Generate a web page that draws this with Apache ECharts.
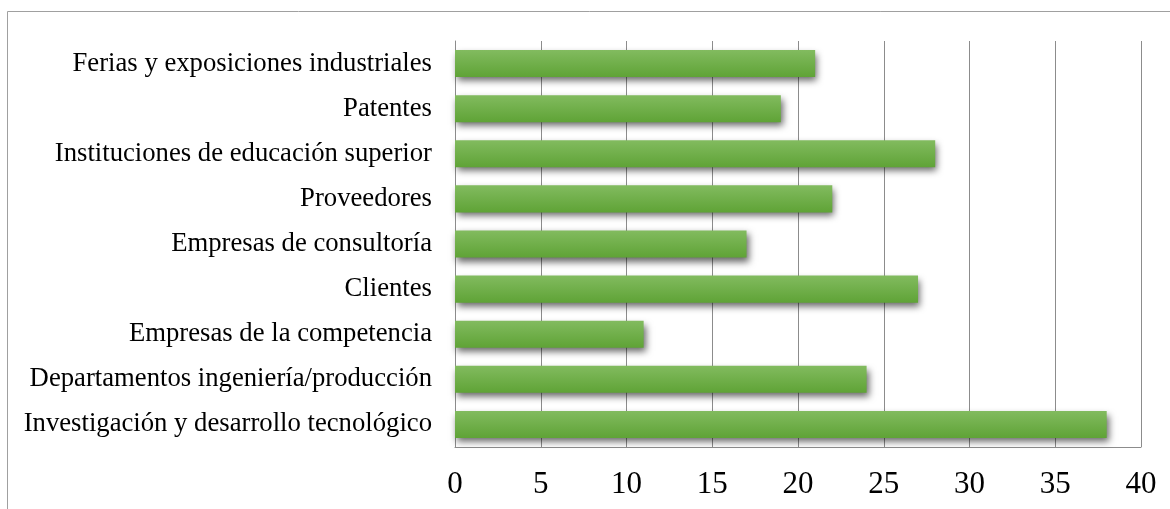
<!DOCTYPE html>
<html>
<head>
<meta charset="utf-8">
<script src="https://cdn.jsdelivr.net/npm/echarts@6/dist/echarts.min.js"></script>
<style>
html,body{margin:0;padding:0;background:#fff;}
#chart{width:1170px;height:509px;}
</style>
</head>
<body>
<div id="chart"></div>
<script>
const categories = [
  "Investigación y desarrollo tecnológico",
  "Departamentos ingeniería/producción",
  "Empresas de la competencia",
  "Clientes",
  "Empresas de consultoría",
  "Proveedores",
  "Instituciones de educación superior",
  "Patentes",
  "Ferias y exposiciones industriales"
];
const values = [38, 24, 11, 27, 17, 22, 28, 19, 21];
const xTicks = { min: 0, max: 40, interval: 5 };

const chart = echarts.init(document.getElementById('chart'));
chart.setOption({
  animation: false,
  backgroundColor: '#ffffff',
  graphic: [{
    type: 'rect',
    shape: { x: 7.5, y: 11.5, width: 1200, height: 600 },
    style: { fill: 'none', stroke: '#a0a0a0', lineWidth: 1 },
    silent: true
  }],
  grid: { left: 455, right: 29, top: 41, bottom: 62, containLabel: false },
  xAxis: {
    type: 'value',
    min: xTicks.min, max: xTicks.max, interval: xTicks.interval,
    axisLine: { show: true, lineStyle: { color: '#8c8c8c', width: 1 } },
    axisTick: { show: false },
    splitLine: { show: true, lineStyle: { color: '#8c8c8c', width: 1 } },
    axisLabel: { fontFamily: 'Liberation Serif', fontSize: 31, color: '#000', margin: 22 }
  },
  yAxis: {
    type: 'category',
    data: categories,
    axisLine: { show: true, lineStyle: { color: '#8c8c8c', width: 1 } },
    axisTick: { show: false },
    axisLabel: { fontFamily: 'Liberation Serif', fontSize: 26.7, color: '#000', margin: 23 }
  },
  series: [{
    type: 'bar',
    data: values,
    barCategoryGap: '40%',
    itemStyle: {
      color: new echarts.graphic.LinearGradient(0, 0, 0, 1, [
        { offset: 0, color: '#82bb5f' },
        { offset: 1, color: '#5fa336' }
      ]),
      shadowColor: 'rgba(0,0,0,0.6)',
      shadowBlur: 7,
      shadowOffsetX: 2,
      shadowOffsetY: 4
    }
  }]
});
</script>
</body>
</html>
